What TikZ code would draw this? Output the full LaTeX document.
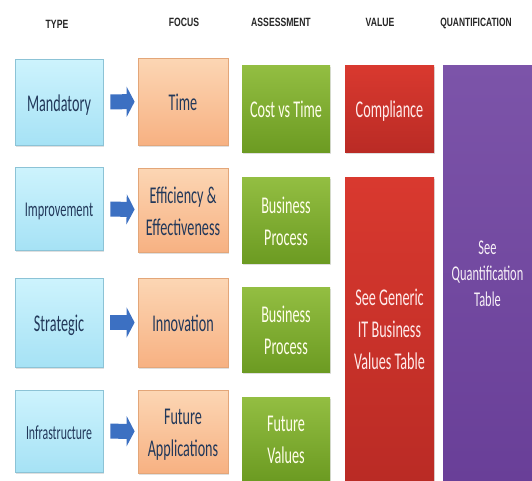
\documentclass[tikz,border=0pt]{standalone}
\usepackage{graphicx}
\usepackage{fontspec}
\setmainfont{Carlito}
\newfontfamily\headfont{Liberation Sans}
\usepackage{tikz}
\usetikzlibrary{arrows.meta,shadows}

\definecolor{typetop}{HTML}{CDF3FD}
\definecolor{typebot}{HTML}{A6E2F5}
\definecolor{typeline}{HTML}{8CC3D6}
\definecolor{focustop}{HTML}{FCD6B4}
\definecolor{focusbot}{HTML}{F7B182}
\definecolor{focusline}{HTML}{E3A679}
\definecolor{assesstop}{HTML}{93BE42}
\definecolor{assessbot}{HTML}{6C9B22}
\definecolor{valuetop}{HTML}{D9392F}
\definecolor{valuebot}{HTML}{BA2B25}
\definecolor{quanttop}{HTML}{7C54A9}
\definecolor{quantbot}{HTML}{693F98}
\definecolor{navytext}{HTML}{22385A}
\definecolor{arrowblue}{HTML}{3C70C2}

% squeeze text sideways, like the narrow slide font
\newcommand{\narrow}[2][0.59]{\raisebox{-3pt}[\height][\depth]{\scalebox{#1}[1]{\begin{tabular}{@{}c@{}}#2\end{tabular}}}}

\tikzset{
  box/.style={rectangle, inner sep=2pt, align=center,
    font=\fontsize{24}{32}\selectfont,
    drop shadow={opacity=.25, shadow xshift=1pt, shadow yshift=-2pt}},
  typebox/.style={box, draw=typeline, line width=.8pt, minimum width=88pt,
    top color=typetop, bottom color=typebot, text=navytext},
  focusbox/.style={box, draw=focusline, line width=.8pt, minimum width=90pt,
    top color=focustop, bottom color=focusbot, text=navytext},
  assessbox/.style={box, minimum width=88pt,
    top color=assesstop, bottom color=assessbot, text=yellow!8},
  valuebox/.style={box, minimum width=89pt,
    top color=valuetop, bottom color=valuebot, text=red!8},
  quantbox/.style={box, minimum width=89pt,
    top color=quanttop, bottom color=quantbot, text=violet!6,
    font=\fontsize{21}{26}\selectfont},
  head/.style={font=\headfont\bfseries\fontsize{12}{14}\selectfont, text=black!85, inner sep=1pt},
  flow/.style={draw=arrowblue, line width=15pt, shorten <=7pt, shorten >=3pt,
    -{Triangle[length=8pt,width=30pt]}}
}

\begin{document}
\begin{tikzpicture}[x=1pt,y=-1pt]
  \fill[white] (0,0) rectangle (532,480);

  % headings
  \node[head] (htype)   at (57,23)    {\narrow[.72]{TYPE}};
  \node[head] (hfocus)  at (184,21)   {\narrow[.72]{FOCUS}};
  \node[head] (hassess) at (281,21)   {\narrow[.72]{ASSESSMENT}};
  \node[head] (hvalue)  at (380,21)   {\narrow[.72]{VALUE}};
  \node[head] (hquant)  at (476,21)   {\narrow[.7]{QUANTIFICATION}};

  % type
  \node[typebox,minimum height=86pt] (mand)  at (59,102)   {\narrow{Mandatory}};
  \node[typebox,minimum height=83pt,font=\fontsize{21}{26}\selectfont] (impr) at (59,208.5) {\narrow{Improvement}};
  \node[typebox,minimum height=89pt] (strat) at (59,322.5) {\narrow{Strategic}};
  \node[typebox,minimum height=82pt,font=\fontsize{20}{26}\selectfont] (infra) at (59,431) {\narrow{Infrastructure}};

  % focus
  \node[focusbox,minimum height=87pt] (time)  at (183,101.5) {\narrow{Time}};
  \node[focusbox,minimum height=84pt] (eff)   at (183,210)   {\narrow{Efficiency \&\\Effectiveness}};
  \node[focusbox,minimum height=89pt] (innov) at (183,322.5) {\narrow{Innovation}};
  \node[focusbox,minimum height=83pt] (fut)   at (183,431.5) {\narrow{Future\\Applications}};

  % type -> focus
  \foreach \a/\b in {mand/time,impr/eff,strat/innov,infra/fut}
    \draw[flow] (\a) -- (\b);

  % assessment
  \node[assessbox,minimum height=87pt] (cost)  at (286,108.5) {\narrow{Cost vs Time}};
  \node[assessbox,minimum height=86pt] (bus)   at (286,220)   {\narrow{Business\\Process}};
  \node[assessbox,minimum height=85pt] (bus2)  at (286,329.5) {\narrow{Business\\Process}};
  \node[assessbox,minimum height=83pt] (futv)  at (286,438.5) {\narrow{Future\\Values}};

  % value
  \node[valuebox,minimum height=87pt]  (compl) at (389.5,108.5) {\narrow{Compliance}};
  \node[valuebox,minimum height=303pt] (gen)   at (389.5,328.5) {\narrow{See Generic\\IT Business\\Values Table}};

  % quantification
  \node[quantbox,minimum height=415pt] (quant) at (487.5,272.5) {\narrow{See\\Quantification\\Table}};

  \pgfresetboundingbox
  \useasboundingbox (0,0) rectangle (532,480);
\end{tikzpicture}
\end{document}
